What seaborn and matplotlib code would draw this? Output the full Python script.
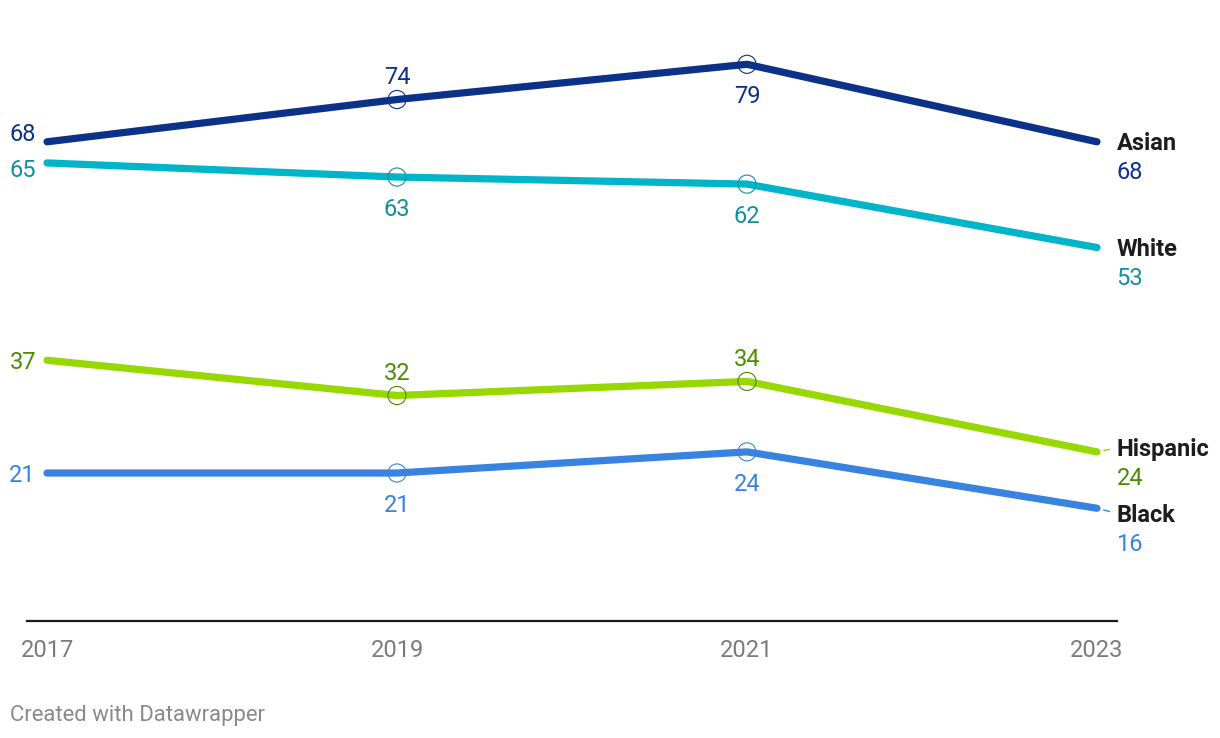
import matplotlib
matplotlib.use("Agg")
import matplotlib.pyplot as plt
import seaborn as sns
import pandas as pd

years = [2017, 2019, 2021, 2023]
groups = ["Asian", "White", "Hispanic", "Black"]
asian = [68, 74, 79, 68]
white = [65, 63, 62, 53]
hispanic = [37, 32, 34, 24]
black = [21, 21, 24, 16]
values = {"Asian": asian, "White": white, "Hispanic": hispanic, "Black": black}
year_labels = ["2017", "2019", "2021", "2023"]
footer = "Created with Datawrapper"

line_colors = {"Asian": "#0b3189", "White": "#00b4ca", "Hispanic": "#97d800", "Black": "#3883e0"}
text_colors = {"Asian": "#0b3189", "White": "#12909f", "Hispanic": "#4b8c00", "Black": "#3883e0"}
# label placement style (offsets in points)
start_dy = {"Asian": 7, "White": -4, "Hispanic": 0, "Black": 0}
mid_pos = {"Asian": ["above", "below"], "White": ["below", "below"],
           "Hispanic": ["above", "above"], "Black": ["below", "below"]}
end_dy = {"Asian": 0, "White": 0, "Hispanic": 3, "Black": -4}
tdy = -1.5  # general text baseline nudge

sns.set_theme(style="white")
plt.rcParams["font.family"] = ["Roboto", "DejaVu Sans"]

df = pd.DataFrame([(g, y, v) for g in groups for y, v in zip(years, values[g])],
                  columns=["group", "year", "value"])

W, H = 1220, 738
fig = plt.figure(figsize=(W / 100, H / 100), dpi=100)
ax_left, ax_right, ax_bottom, ax_top = 27, 1117, 621, 22
ax = fig.add_axes([ax_left / W, (H - ax_bottom) / H, (ax_right - ax_left) / W, (ax_bottom - ax_top) / H])

px_per_year = (1097 - 47) / 6
ax.set_xlim(2017 - 20 / px_per_year, 2023 + 20 / px_per_year)
ax.set_ylim(0, 85)

sns.lineplot(data=df, x="year", y="value", hue="group", palette=line_colors,
             linewidth=5.2, solid_capstyle="round", legend=False, ax=ax, zorder=2)

mid = df[df["year"].isin([2019, 2021])]
for g in groups:
    sub = mid[mid["group"] == g]
    sns.scatterplot(data=sub, x="year", y="value", s=170, facecolors="none",
                    edgecolor=text_colors[g], linewidth=0.8, ax=ax, zorder=3, legend=False)

fs = 17
for g in groups:
    v = values[g]
    c = text_colors[g]
    # start label
    ax.annotate(str(v[0]), (years[0], v[0]), xytext=(-8, start_dy[g] + tdy), textcoords="offset points",
                ha="right", va="center", fontsize=fs, color=c)
    # middle labels
    for i, pos in zip([1, 2], mid_pos[g]):
        dy = 17.5 if pos == "above" else -22
        ax.annotate(str(v[i]), (years[i], v[i]), xytext=(0, dy + tdy), textcoords="offset points",
                    ha="center", va="center", fontsize=fs, color=c)
    # end labels
    ax.annotate(g, (years[3], v[3]), xytext=(14, end_dy[g] + tdy), textcoords="offset points",
                ha="left", va="center", fontsize=fs, color="#1d1d1d", fontweight="bold")
    ax.annotate(str(v[3]), (years[3], v[3]), xytext=(14, end_dy[g] - 20.5 + tdy), textcoords="offset points",
                ha="left", va="center", fontsize=fs, color=c)
    if end_dy[g] != 0:
        ax.annotate("", xy=(years[3], v[3]), xytext=(9, end_dy[g] * 0.6), textcoords="offset points",
                    arrowprops=dict(arrowstyle="-", color=line_colors[g], lw=1, shrinkA=0, shrinkB=5))

ax.set_xticks(years)
ax.set_xticklabels(year_labels, fontsize=fs, color="#7b7b7b")
ax.tick_params(axis="x", length=0, pad=13)
ax.set_yticks([])
ax.set_xlabel("")
ax.set_ylabel("")
for s in ["top", "left", "right"]:
    ax.spines[s].set_visible(False)
ax.spines["bottom"].set_color("#1a1a1a")
ax.spines["bottom"].set_linewidth(1.6)
ax.patch.set_alpha(0)

fig.text(10 / W, 1 - 715 / H, footer, fontsize=15.9, color="#8a8a8a", ha="left", va="center")

fig.savefig("out.png", dpi=100, facecolor="white")
